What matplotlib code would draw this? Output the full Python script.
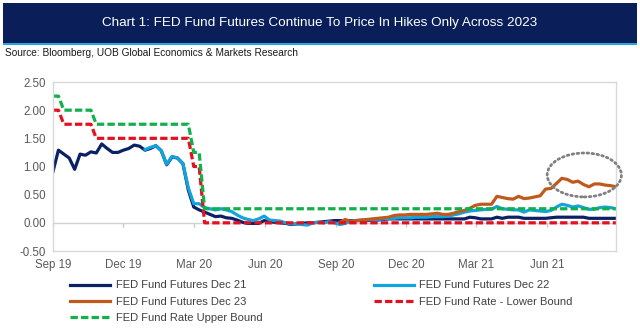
import matplotlib
matplotlib.use("Agg")
import matplotlib.pyplot as plt
import matplotlib.dates as mdates
from matplotlib.patches import Rectangle, Ellipse
import numpy as np
import pandas as pd

plt.rcParams['font.family'] = ['Liberation Sans', 'DejaVu Sans']

# weekly observations (Fridays)
dates = pd.date_range("2019-09-06", periods=105, freq="7D")
tick_dates = pd.date_range("2019-09-06", periods=8, freq=pd.DateOffset(months=3))

fut_dec21 = [
	0.91, 1.29, 1.22, 1.15, 0.95, 1.22, 1.20, 1.26, 1.24, 1.40,
	1.32, 1.25, 1.25, 1.29, 1.32, 1.38, 1.36, 1.29, 1.32, 1.37,
	1.28, 1.03, 1.17, 1.15, 1.05, 0.58, 0.28, 0.23, 0.19, 0.15,
	0.11, 0.12, 0.09, 0.08, 0.05, 0.01, -0.01, -0.01, -0.01, 0.04,
	0.02, 0.01, 0.00, -0.01, -0.03, -0.02, -0.01, 0.00, 0.00, 0.01,
	0.02, 0.03, 0.04, 0.04, 0.04, 0.04, 0.04, 0.04, 0.04, 0.05,
	0.05, 0.06, 0.07, 0.07, 0.07, 0.07, 0.07, 0.07, 0.07, 0.07,
	0.07, 0.07, 0.07, 0.07, 0.07, 0.07, 0.07, 0.10, 0.09, 0.07,
	0.07, 0.07, 0.10, 0.08, 0.10, 0.10, 0.10, 0.08, 0.08, 0.08,
	0.08, 0.08, 0.09, 0.10, 0.10, 0.10, 0.10, 0.10, 0.10, 0.08,
	0.08, 0.08, 0.08, 0.08, 0.08,
]

fut_dec22 = [None] * 17 + [
	1.30, 1.34, 1.37,
	1.28, 1.04, 1.18, 1.15, 1.05, 0.62, 0.34, 0.34, 0.27, 0.25,
	0.23, 0.25, 0.23, 0.20, 0.14, 0.09, 0.06, 0.04, 0.07, 0.12,
	0.05, 0.04, 0.03, 0.00, -0.02, -0.02, -0.03, -0.04, 0.00, 0.01,
	0.00, 0.02, 0.00, -0.03, -0.01, 0.03, 0.04, 0.05, 0.05, 0.06,
	0.06, 0.07, 0.08, 0.08, 0.09, 0.09, 0.09, 0.10, 0.10, 0.10,
	0.11, 0.11, 0.11, 0.12, 0.14, 0.16, 0.19, 0.21, 0.22, 0.23,
	0.24, 0.24, 0.29, 0.25, 0.24, 0.23, 0.23, 0.19, 0.23, 0.22,
	0.21, 0.20, 0.22, 0.28, 0.33, 0.31, 0.28, 0.30, 0.27, 0.24,
	0.24, 0.27, 0.28, 0.27, 0.25,
]

fut_dec23 = [None] * 53 + [
	0.01, 0.06, 0.02, 0.04, 0.05, 0.06, 0.07,
	0.08, 0.09, 0.10, 0.13, 0.14, 0.14, 0.15, 0.15, 0.15, 0.15,
	0.16, 0.17, 0.15, 0.15, 0.17, 0.20, 0.22, 0.26, 0.31, 0.33,
	0.33, 0.33, 0.47, 0.45, 0.43, 0.42, 0.47, 0.43, 0.44, 0.46,
	0.48, 0.60, 0.61, 0.70, 0.79, 0.77, 0.72, 0.74, 0.68, 0.64,
	0.69, 0.69, 0.67, 0.66, 0.64,
]

rate_lower = [2.00] * 2 + [1.75] * 6 + [1.50] * 18 + [1.00] * 2 + [0.00] * 77
rate_upper = [2.25] * 2 + [2.00] * 6 + [1.75] * 18 + [1.25] * 2 + [0.25] * 77

def to_arr(vals):
	return np.array([np.nan if v is None else v for v in vals], dtype=float)

navy = "#0b2165"
light_blue = "#13a3df"
orange = "#c05a1c"
red = "#e3101f"
green = "#12b04a"

fig = plt.figure(figsize=(6.4, 3.28), dpi=100)

# title banner
fig.patches.append(Rectangle((3 / 640, 1 - 43 / 328), 634 / 640, 40 / 328,
	transform=fig.transFigure, facecolor="#0a1f5a", edgecolor="none"))
fig.patches.append(Rectangle((3 / 640, 1 - 45 / 328), 634 / 640, 2 / 328,
	transform=fig.transFigure, facecolor="#22a8e0", edgecolor="none"))
fig.text(0.5, 1 - 23 / 328, "Chart 1: FED Fund Futures Continue To Price In Hikes Only Across 2023",
	color="white", fontsize=9.7, ha="center", va="center")
fig.text(5 / 640, 1 - 53 / 328, "Source: Bloomberg, UOB Global Economics & Markets Research",
	color="#1a1a1a", fontsize=7.3, ha="left", va="center")

ax = fig.add_axes([53 / 640, 1 - 251 / 328, 563 / 640, 169 / 328])

lw = 2.3
h1, = ax.plot(dates, to_arr(fut_dec21), color=navy, lw=lw, label="FED Fund Futures Dec 21")
h2, = ax.plot(dates, to_arr(fut_dec22), color=light_blue, lw=lw, label="FED Fund Futures Dec 22")
h3, = ax.plot(dates, to_arr(fut_dec23), color=orange, lw=lw, label="FED Fund Futures Dec 23")
h4, = ax.plot(dates, rate_lower, color=red, lw=lw, dashes=(2.3, 1.0), label="FED Fund Rate - Lower Bound")
h5, = ax.plot(dates, rate_upper, color=green, lw=lw, dashes=(2.3, 1.0), label="FED Fund Rate Upper Bound")

# highlight around the latest Dec 23 pricing
ax.add_patch(Ellipse((mdates.date2num(pd.Timestamp("2021-07-24")), 0.85), 96, 0.78,
	fill=False, edgecolor="#808080", lw=2.0, linestyle=(0, (0.6, 1.2)),
	capstyle="round", clip_on=False, zorder=5))

ax.set_xlim(dates[0], dates[-1])
ax.set_ylim(-0.5, 2.5)
ax.set_yticks(np.arange(-0.5, 2.51, 0.5))
ax.yaxis.set_major_formatter(matplotlib.ticker.FormatStrFormatter("%.2f"))

ax.set_xticks(tick_dates)
ax.xaxis.set_major_formatter(mdates.DateFormatter("%b %y"))
ax.tick_params(axis="both", length=0, labelsize=8.3, labelcolor="#595959")
ax.tick_params(axis="x", pad=6)
ax.tick_params(axis="y", pad=5)

for s in ax.spines.values():
	s.set_color("#d9d9d9")
	s.set_linewidth(1.0)

# zero line with small tick marks
ax.axhline(0, color="#d0d0d0", lw=1.0, zorder=0)
zero_axis = ax.secondary_xaxis(0.5 / 3.0)
zero_axis.set_xticks(tick_dates)
zero_axis.set_xticklabels([])
zero_axis.tick_params(length=3, color="#c8c8c8", width=1.0)
zero_axis.spines["bottom"].set_visible(False)

leg = fig.legend([h1, h3, h5, h2, h4],
	[h.get_label() for h in [h1, h3, h5, h2, h4]],
	ncol=2, loc="upper left", bbox_to_anchor=(66 / 640, 1 - 276 / 328),
	frameon=False, fontsize=8, handlelength=3.6, handletextpad=0.5,
	columnspacing=10.0, labelspacing=0.55, borderaxespad=0)
for t in leg.get_texts():
	t.set_color("#404040")

fig.savefig("out.png", dpi=100)
